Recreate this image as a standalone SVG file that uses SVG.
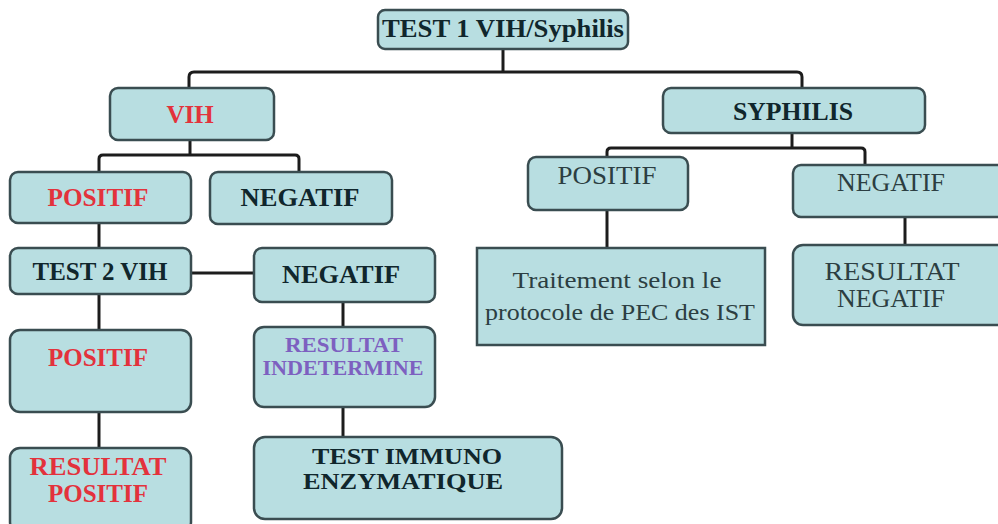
<svg xmlns="http://www.w3.org/2000/svg" width="998" height="524" viewBox="0 0 998 524">
  <style>
    .box { fill: #b8dee1; stroke: #3a4d51; stroke-width: 2.5; }
    .wire { fill: none; stroke: #1c1c1c; stroke-width: 3; }
    text { font-family: "Liberation Serif", "Times New Roman", serif; text-anchor: middle; }
    .b { font-weight: bold; font-size: 25px; }
    .r { font-weight: normal; font-size: 26px; fill: #2c3e42; }
    .t { font-weight: normal; font-size: 23px; fill: #2c3e42; }
    .dark { fill: #10262c; }
    .red { fill: #e3323c; }
    .violet { fill: #7d60c0; font-size: 21px; }
    .title { font-size: 26px; }
    .immuno { font-size: 24px; }
  </style>
  <rect width="998" height="524" fill="#ffffff"/>

  <g id="connectors">
    <path class="wire" d="M503,49 V72"/>
    <path class="wire" d="M189,88 V77 Q189,72 194,72 H797 Q802,72 802,77 V88"/>
    <path class="wire" d="M190,140 V155"/>
    <path class="wire" d="M99,172 V159 Q99,155 103,155 H295 Q299,155 299,159 V172"/>
    <path class="wire" d="M99,223 V248"/>
    <path class="wire" d="M191,273 H254"/>
    <path class="wire" d="M99,294 V330"/>
    <path class="wire" d="M99,412 V448"/>
    <path class="wire" d="M343,302 V327"/>
    <path class="wire" d="M343,407 V437"/>
    <path class="wire" d="M792,133 V148"/>
    <path class="wire" d="M607,157 V152 Q607,148 611,148 H861 Q865,148 865,152 V165"/>
    <path class="wire" d="M607,210 V248"/>
    <path class="wire" d="M905,217 V245"/>
  </g>

  <g id="test1">
    <rect class="box" x="378" y="10" width="250" height="39" rx="7"/>
    <text class="b dark title" x="503" y="37" textLength="242" lengthAdjust="spacingAndGlyphs">TEST 1 VIH/Syphilis</text>
  </g>

  <g id="vih">
    <rect class="box" x="110" y="88" width="164" height="52" rx="8"/>
    <text class="b red" x="190" y="123">VIH</text>
  </g>

  <g id="vih-positif">
    <rect class="box" x="10" y="172" width="181" height="51" rx="8"/>
    <text class="b red" x="98" y="206" textLength="101" lengthAdjust="spacingAndGlyphs">POSITIF</text>
  </g>

  <g id="vih-negatif">
    <rect class="box" x="210" y="172" width="182" height="52" rx="8"/>
    <text class="b dark" x="300" y="206" textLength="119" lengthAdjust="spacingAndGlyphs">NEGATIF</text>
  </g>

  <g id="test2">
    <rect class="box" x="10" y="248" width="181" height="46" rx="8"/>
    <text class="b dark" x="100" y="280" textLength="135" lengthAdjust="spacingAndGlyphs">TEST 2 VIH</text>
  </g>

  <g id="test2-negatif">
    <rect class="box" x="254" y="248" width="181" height="54" rx="8"/>
    <text class="b dark" x="341" y="283" textLength="118" lengthAdjust="spacingAndGlyphs">NEGATIF</text>
  </g>

  <g id="test2-positif">
    <rect class="box" x="10" y="330" width="181" height="82" rx="10"/>
    <text class="b red" x="98" y="366" textLength="100" lengthAdjust="spacingAndGlyphs">POSITIF</text>
  </g>

  <g id="resultat-positif">
    <rect class="box" x="10" y="448" width="181" height="84" rx="10"/>
    <text class="b red" x="98" y="475" textLength="137" lengthAdjust="spacingAndGlyphs">RESULTAT</text>
    <text class="b red" x="98" y="502" textLength="100" lengthAdjust="spacingAndGlyphs">POSITIF</text>
  </g>

  <g id="resultat-indetermine">
    <rect class="box" x="254" y="327" width="181" height="80" rx="10"/>
    <text class="b violet" x="344" y="352" textLength="118" lengthAdjust="spacingAndGlyphs">RESULTAT</text>
    <text class="b violet" x="343" y="375" textLength="161" lengthAdjust="spacingAndGlyphs">INDETERMINE</text>
  </g>

  <g id="test-immuno">
    <rect class="box" x="254" y="437" width="308" height="82" rx="11"/>
    <text class="b dark immuno" x="407" y="464" textLength="190" lengthAdjust="spacingAndGlyphs">TEST IMMUNO</text>
    <text class="b dark immuno" x="403" y="489" textLength="200" lengthAdjust="spacingAndGlyphs">ENZYMATIQUE</text>
  </g>

  <g id="syphilis">
    <rect class="box" x="663" y="88" width="262" height="45" rx="8"/>
    <text class="b dark" x="793" y="120" textLength="120" lengthAdjust="spacingAndGlyphs">SYPHILIS</text>
  </g>

  <g id="syphilis-positif">
    <rect class="box" x="528" y="157" width="160" height="53" rx="8"/>
    <text class="r" x="607" y="184" textLength="99" lengthAdjust="spacingAndGlyphs">POSITIF</text>
  </g>

  <g id="syphilis-negatif">
    <rect class="box" x="793" y="165" width="215" height="52" rx="8"/>
    <text class="r" x="891" y="191" textLength="108" lengthAdjust="spacingAndGlyphs">NEGATIF</text>
  </g>

  <g id="traitement">
    <rect class="box" x="477" y="248" width="288" height="97"/>
    <text class="t" x="617" y="288" textLength="209" lengthAdjust="spacingAndGlyphs">Traitement selon le</text>
    <text class="t" x="620" y="320" textLength="270" lengthAdjust="spacingAndGlyphs">protocole de PEC des IST</text>
  </g>

  <g id="resultat-negatif">
    <rect class="box" x="793" y="245" width="215" height="80" rx="10"/>
    <text class="r" x="892" y="280" textLength="135" lengthAdjust="spacingAndGlyphs">RESULTAT</text>
    <text class="r" x="891" y="307" textLength="108" lengthAdjust="spacingAndGlyphs">NEGATIF</text>
  </g>
</svg>
